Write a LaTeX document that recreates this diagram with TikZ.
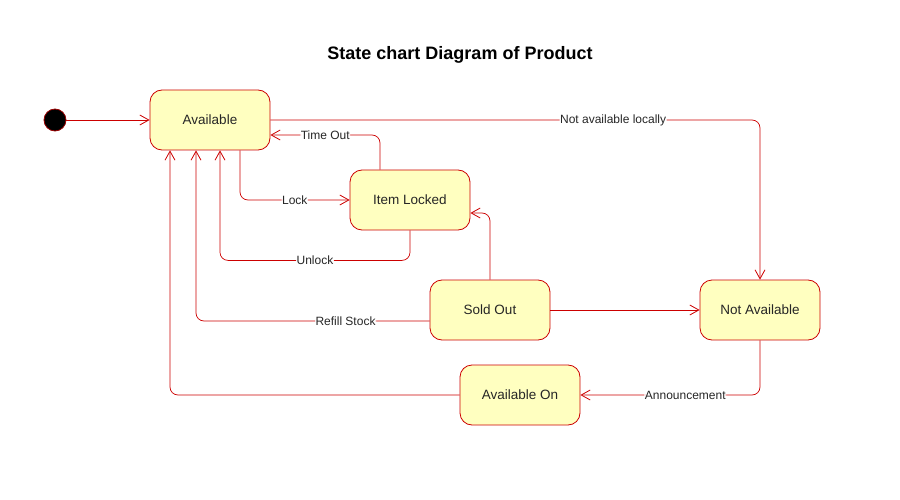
\documentclass[tikz,border=0pt]{standalone}
\usepackage{fontspec}
\setmainfont{Liberation Sans}
\usetikzlibrary{arrows.meta,calc}
\definecolor{stroke}{RGB}{204,0,0}
\definecolor{statefill}{RGB}{255,255,192}
\tikzset{
  state/.style={draw=stroke, fill=statefill, rounded corners=12pt, minimum width=120pt, minimum height=60pt, inner sep=0pt, font=\fontsize{13.5}{16}\selectfont, text=black!85, line width=0.8pt},
  tr/.style={draw=stroke, line width=0.7pt, rounded corners=8pt, -{Straight Barb[length=9pt,width=10pt,line width=0.8pt]}},
  lbl/.style={fill=white, inner sep=0.5pt, font=\fontsize{12}{14}\selectfont, text=black!85}
}
\begin{document}
\begin{tikzpicture}[x=1pt,y=-1pt]
\useasboundingbox (0,0) rectangle (900,500);
\node[font=\bfseries\fontsize{18}{21}\selectfont] (title) at (460,55) {State chart Diagram of Product};
\node[circle, fill=black, draw=red!60!black, line width=0.8pt, minimum size=22pt, inner sep=0pt] (init) at (55,120) {};
\node[state] (avail) at (210,120) {Available};
\node[state] (locked) at (410,200) {Item Locked};
\node[state] (sold) at (490,310) {Sold Out};
\node[state] (notavail) at (760,310) {Not Available};
\node[state] (availon) at (520,395) {Available On};

\draw[tr] (init) -- (avail.west);
\draw[tr] (avail.east) -- node[lbl,pos=0.7]{Not available locally} (avail.east -| notavail.north) -- (notavail.north);
\draw[tr] ($(locked.north)+(-30,0)$) |- node[lbl,pos=0.75]{Time Out} ($(avail.east)+(0,15)$);
\draw[tr] ($(avail.south)+(30,0)$) |- node[lbl,pos=0.75]{Lock} (locked.west);
\draw[tr] (locked.south) |- node[lbl,pos=0.75]{Unlock} ($(avail.south)+(10,110)$) -- ($(avail.south)+(10,0)$);
\draw[tr] (sold.north) |- ($(locked.east)+(0,13)$);
\draw[tr] ($(sold.west)+(0,11)$) -| node[lbl,pos=0.18]{Refill Stock} ($(avail.south)+(-14,0)$);
\draw[tr] (sold.east) -- (notavail.west);
\draw[tr] (notavail.south) |- node[lbl,pos=0.708]{Announcement} (availon.east);
\draw[tr] (availon.west) -| ($(avail.south)+(-40,0)$);
\end{tikzpicture}
\end{document}
